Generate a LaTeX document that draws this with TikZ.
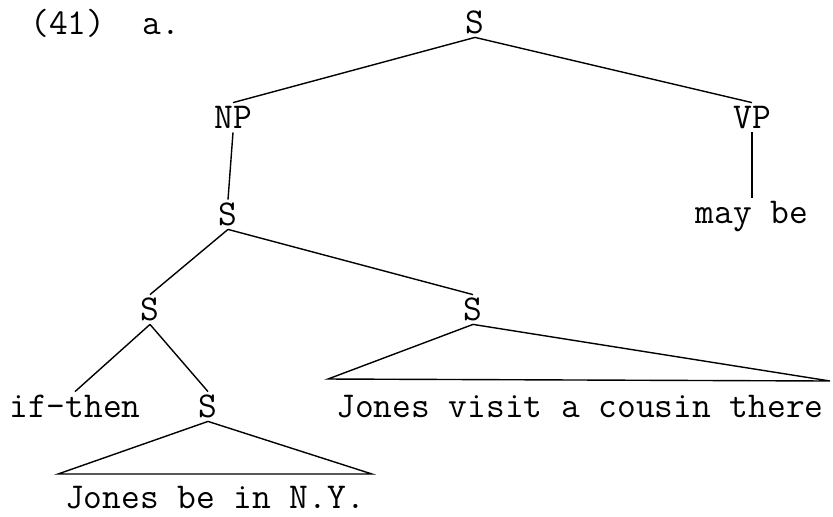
\documentclass[tikz,border=0pt]{standalone}
\usepackage{tikz}
\tikzset{
  lbl/.style={font=\ttfamily\fontsize{18.2}{21}\selectfont, anchor=base,
    inner xsep=0pt, inner ysep=2pt, text height=10.5pt, text depth=0pt},
  branch/.style={line width=0.7pt}
}

\begin{document}
\begin{tikzpicture}[x=0.5pt,y=-0.5pt]
        \useasboundingbox (0,0) rectangle (833,516);
        \node[lbl, anchor=base west] (num) at (30,34) {(41)~~a.};
        \node[lbl] (top) at (475,33) {S};
        \node[lbl] (np) at (233,128) {NP};
        \node[lbl] (vp) at (752,128) {VP};
        \node[lbl] (smid) at (228,225) {S};
        \node[lbl] (maybe) at (752,223) {may be};
        \node[lbl] (sl) at (150,320) {S};
        \node[lbl] (sr) at (473,320) {S};
        \node[lbl] (ifthen) at (75,417) {if-then};
        \node[lbl] (sin) at (208,417) {S};
        \node[lbl] (visit) at (580,417) {Jones visit a cousin there};
        \node[lbl] (ny) at (215,508) {Jones be in N.Y.};
        \draw[branch] (top.south) -- (np.north);
        \draw[branch] (top.south) -- (vp.north);
        \draw[branch] (np.south) -- (smid.north);
        \draw[branch] (vp.south) -- (maybe.north);
        \draw[branch] (smid.south) -- (sl.north);
        \draw[branch] (smid.south) -- (sr.north);
        \draw[branch] (sl.south) -- (ifthen.north);
        \draw[branch] (sl.south) -- (sin.north);
        \coordinate (nyL) at (58,474);
        \coordinate (nyR) at (372,474);
        \draw[branch] (sin.south) -- (nyL) -- (nyR) -- cycle;
        \coordinate (visL) at (328,379);
        \coordinate (visR) at (830,381);
        \draw[branch] (sr.south) -- (visL) -- (visR) -- cycle;
\end{tikzpicture}
\end{document}
